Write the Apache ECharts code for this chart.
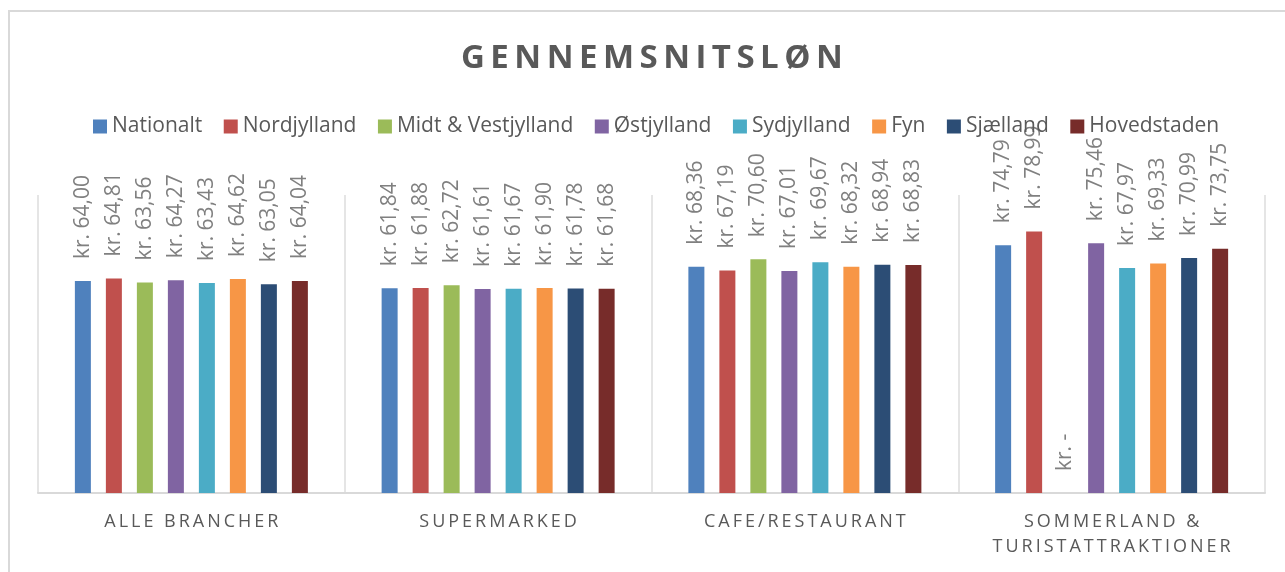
<!DOCTYPE html>
<html>
<head>
<meta charset="utf-8">
<script src="https://cdn.jsdelivr.net/npm/echarts@6/dist/echarts.min.js"></script>
<style>
  html, body { margin: 0; padding: 0; background: #fff; overflow: hidden; }
  #frame { position: absolute; left: 8px; top: 10px; width: 1400px; height: 700px; border: 2px solid #d9d9d9; }
  #chart { position: absolute; left: 0; top: 0; width: 1285px; height: 572px; }
</style>
</head>
<body>
<div id="frame"></div>
<div id="chart"></div>
<script>
// --- data ---
const title = 'GENNEMSNITSLØN';
const categories = ['ALLE BRANCHER', 'SUPERMARKED', 'CAFE/RESTAURANT', 'SOMMERLAND &\nTURISTATTRAKTIONER'];

const nationalt   = [64.00, 61.84, 68.36, 74.79];
const nordjylland = [64.81, 61.88, 67.19, 78.99];
const midtVest    = [63.56, 62.72, 70.60, 0];     // shown as "kr. -"
const oestjylland = [64.27, 61.61, 67.01, 75.46];
const sydjylland  = [63.43, 61.67, 69.67, 67.97];
const fyn         = [64.62, 61.90, 68.32, 69.33];
const sjaelland   = [63.05, 61.78, 68.94, 70.99];
const hovedstaden = [64.04, 61.68, 68.83, 73.75];

const seriesNames = ['Nationalt', 'Nordjylland', 'Midt & Vestjylland', 'Østjylland', 'Sydjylland', 'Fyn', 'Sjælland', 'Hovedstaden'];
const seriesData  = [nationalt, nordjylland, midtVest, oestjylland, sydjylland, fyn, sjaelland, hovedstaden];
const colors      = ['#4f81bd', '#c0504d', '#9bbb59', '#8064a2', '#4bacc6', '#f79646', '#2c4d75', '#772c2a'];

const FONT = '"Open Sans", "Noto Sans", sans-serif';
const TEXT = '#595959';

// canvas text has no letter-spacing, so pad with thin spaces
const spaced = (s, gap) => s.split('\n').map(l => l.split('').join(gap)).join('\n');

const kr = v => v === 0 ? 'kr. -' : 'kr. ' + v.toFixed(2).replace('.', ',');

const chart = echarts.init(document.getElementById('chart'), null, { renderer: 'canvas' });

chart.setOption({
  backgroundColor: 'transparent',
  animation: false,
  color: colors,
  title: {
    text: spaced(title, '\u2009'),
    left: 456,
    top: 37,
    textStyle: { fontFamily: FONT, fontSize: 33, fontWeight: 'bold', color: TEXT },
  },
  legend: {
    top: 111,
    left: 88,
    icon: 'rect',
    itemWidth: 14, itemHeight: 14,
    itemGap: 21.5,
    textStyle: { fontFamily: FONT, fontSize: 21, color: TEXT },
  },
  grid: { left: 38, right: 20, top: 195, bottom: 79, containLabel: false },
  xAxis: {
    type: 'category',
    data: categories,
    axisLine:  { lineStyle: { color: '#d9d9d9', width: 2 } },
    axisTick:  { show: false },
    splitLine: { show: true, lineStyle: { color: '#dcdcdc', width: 1.5 } },
    axisLabel: {
      interval: 0,
      margin: 16,
      fontFamily: FONT,
      fontSize: 18,
      lineHeight: 25,
      color: TEXT,
      formatter: v => spaced(v, '\u2009'),
    },
  },
  yAxis: {
    type: 'value',
    min: 0,
    max: 90,
    show: false,
    splitLine: { show: false },
  },
  series: seriesNames.map((name, i) => ({
    name,
    type: 'bar',
    data: seriesData[i],
    barWidth: 16,
    barGap: '93.75%',
    itemStyle: { color: colors[i] },
    label: {
      show: true,
      position: 'top',
      rotate: 90,
      align: 'left',
      verticalAlign: 'middle',
      distance: 22,
      fontFamily: FONT,
      fontSize: 21,
      color: '#808080',
      formatter: p => kr(p.value),
    },
  })),
});
</script>
</body>
</html>
